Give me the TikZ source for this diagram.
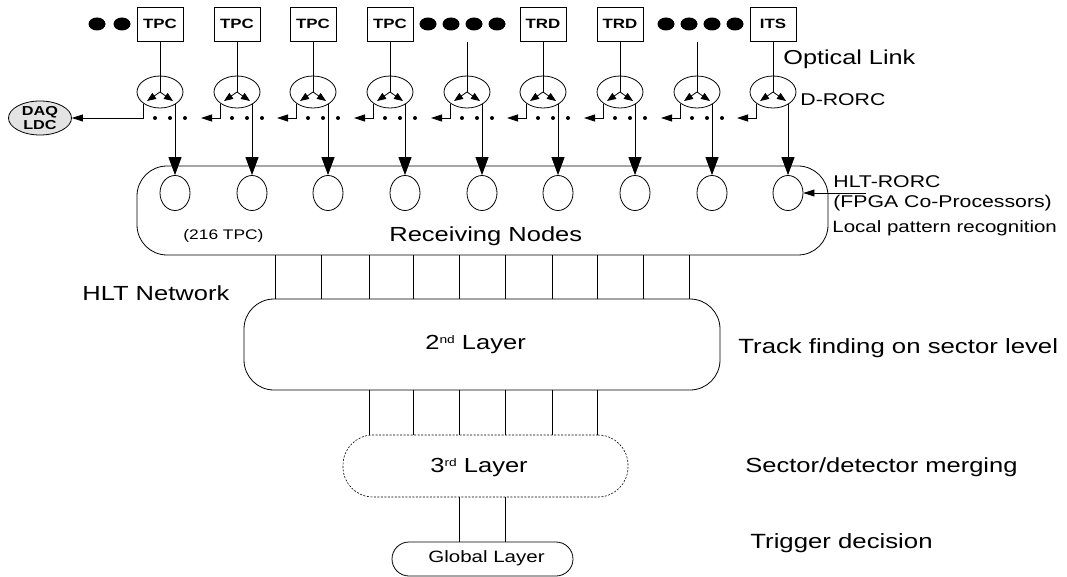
\documentclass[tikz,border=0pt]{standalone}
\usepackage{fontspec}
\newfontfamily\hv[FakeStretch=1.25]{Liberation Sans}
\usetikzlibrary{arrows.meta,shapes.geometric,calc}
% small raised ordinal suffix, top aligned with the capitals
\newcommand\ordsup[1]{\raisebox{5.6pt}{\fontsize{11}{12}\selectfont #1}}

\begin{document}
\begin{tikzpicture}[x=1pt,y=-1pt, line width=0.8pt,
  lbl/.style={inner sep=0, anchor=base west, font=\hv\fontsize{20.4}{24}\selectfont},
  midlbl/.style={lbl, font=\hv\fontsize{17}{20}\selectfont},
  detbox/.style={draw, minimum width=46pt, minimum height=34pt, inner sep=0,
    font=\hv\bfseries\fontsize{13.5}{16}\selectfont},
  drorc/.style={draw, ellipse, minimum width=46pt, minimum height=32pt, inner sep=0},
  hrorc/.style={draw, ellipse, minimum width=30pt, minimum height=35pt, inner sep=0},
  bigdot/.style={fill, ellipse, minimum width=17pt, minimum height=13pt, inner sep=0},
  smdot/.style={fill, circle, minimum size=4pt, inner sep=0},
  splitarr/.style={-{Triangle[length=9pt,width=7pt]}},
  backarr/.style={-{Triangle[length=11pt,width=7pt]}},
  feedarr/.style={-{Triangle[length=18pt,width=13pt]}},
  layerbox/.style={draw, rounded corners=30pt, inner sep=0},
]
\useasboundingbox (0,0) rectangle (1067,577);

% detector front-ends
\node[detbox] (t1) at (160,24) {TPC};
\node[detbox] (t2) at (237,24) {TPC};
\node[detbox] (t3) at (313,24) {TPC};
\node[detbox] (t4) at (390,24) {TPC};
\coordinate (t5) at (467,42);
\node[detbox] (t6) at (543,24) {TRD};
\node[detbox] (t7) at (620,24) {TRD};
\coordinate (t8) at (697,42);
\node[detbox] (t9) at (773,24) {ITS};

% "more detectors" dots
\foreach \n/\x in {1/97,2/122,3/428,4/451,5/474,6/497,7/666,8/689,9/712,10/735}
  \node[bigdot] (bd\n) at (\x,24) {};

% DAQ sink
\node[draw, ellipse, fill=gray!22, minimum width=63pt, minimum height=34pt, inner sep=0,
  align=center, font=\hv\bfseries\fontsize{13}{14}\selectfont] (daq) at (40,118) {DAQ\\LDC};

% receiving nodes block
\node[layerbox, minimum width=691pt, minimum height=89pt] (recv) at (482.5,210.5) {};

% D-RORC / HLT-RORC chains
\foreach \i/\c in {1/160,2/237,3/313,4/390,5/467,6/543,7/620,8/697,9/773} {
  \node[drorc] (d\i) at (\c,92) {};
  \node[hrorc] (h\i) at (\c+15,193) {};
  \coordinate (sl\i) at (\c-13,101);
  \coordinate (sr\i) at (\c+13,101);
  \coordinate (a\i) at (\c-36,118);
  \draw (t\i) -- (d\i.center);
  \draw[splitarr] (d\i.center) -- (sl\i);
  \draw[splitarr] (d\i.center) -- (sr\i);
  \draw[feedarr] (h\i.north |- d\i.south east) -- (h\i.north);
}
\draw[backarr] (d1.south west) |- (daq.east);
\foreach \i in {2,...,9}
  \draw[backarr] (d\i.south west) |- (a\i);
\foreach \i/\c in {1/160,2/237,3/313,4/390,5/467,6/543,7/620,8/697} {
  \node[smdot] (pa\i) at (\c-5,118) {};
  \node[smdot] (pb\i) at (\c+10,118) {};
  \node[smdot] (pc\i) at (\c+25,118) {};
}

% HLT-RORC pointer
\coordinate (hin) at (866,193);
\draw[backarr] (hin) -- (h9.east);

% processing layers
\node[layerbox, minimum width=476pt, minimum height=91pt] (l2) at (482,344.5) {};
\node[layerbox, dashed, dash pattern=on 2pt off 1.5pt, line width=0.6pt,
  minimum width=285pt, minimum height=62pt] (l3) at (485.5,466) {};
\node[draw, rounded corners=17pt, inner sep=0, minimum width=181pt, minimum height=34pt] (gl) at (482.5,559) {};

\foreach \x in {275,321,369,413,459,505,552,597,643,689}
  \draw (\x,0 |- recv.south) -- (\x,0 |- l2.north);
\foreach \x in {369,413,459,505,552,597}
  \draw (\x,0 |- l2.south) -- (\x,0 |- l3.north);
\foreach \x in {459,505}
  \draw (\x,0 |- l3.south) -- (\x,0 |- gl.north);

% labels
\node[lbl, font=\hv\fontsize{20.2}{24}\selectfont] (optl) at (783,65) {Optical Link};
\node[midlbl] (drl) at (800,106) {D-RORC};
\node[midlbl] (hrl) at (833,188) {HLT-RORC};
\node[midlbl] (fpl) at (833,208) {(FPGA Co-Processors)};
\node[midlbl, font=\hv\fontsize{16.4}{20}\selectfont] (lpr) at (832,233) {Local pattern recognition};
\node[lbl] (rnl) at (389,242) {Receiving Nodes};
\node[lbl, font=\hv\fontsize{13.9}{16}\selectfont] (tpcn) at (183,240) {(216 TPC)};
\node[lbl] (net) at (82,300) {HLT Network};
\node[lbl] (l2l) at (425,349) {2\ordsup{nd} Layer};
\node[lbl, font=\hv\fontsize{20.6}{24}\selectfont] (trk) at (738,353) {Track finding on sector level};
\node[lbl] (l3l) at (430,472) {3\ordsup{rd} Layer};
\node[lbl] (mrg) at (745,472) {Sector/detector merging};
\node[lbl, font=\hv\fontsize{20.6}{24}\selectfont] (trg) at (750,548) {Trigger decision};
\node[lbl, font=\hv\fontsize{16.4}{20}\selectfont] (gll) at (428,562) {Global Layer};
\end{tikzpicture}
\end{document}
